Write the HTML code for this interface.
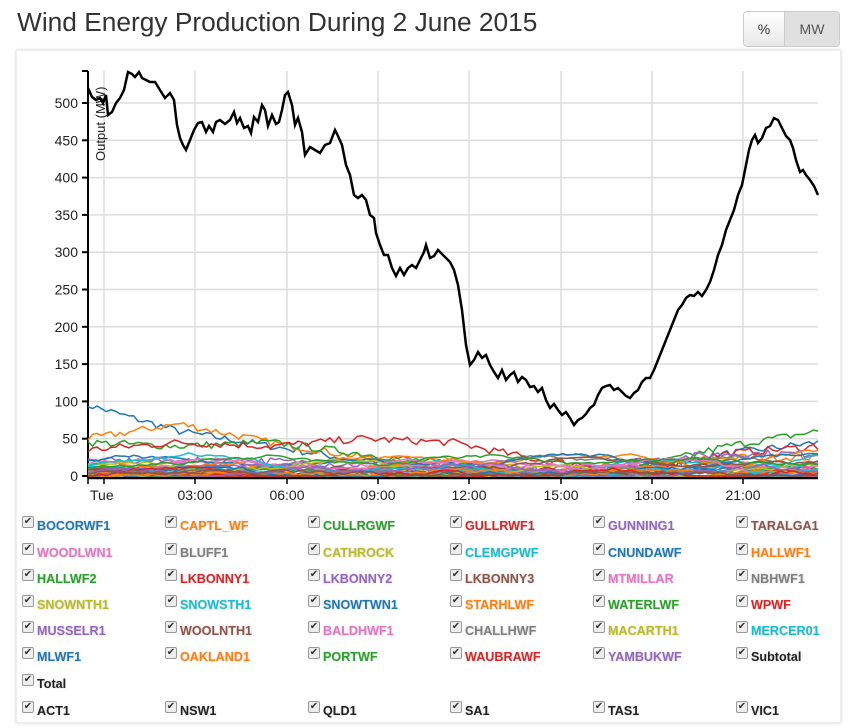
<!DOCTYPE html>
<html><head><meta charset="utf-8"><style>
body{margin:0;background:#fff;font-family:"Liberation Sans",sans-serif;width:858px;height:728px;overflow:hidden;position:relative}
h1{position:absolute;left:17px;top:7px;margin:0;font-weight:normal;font-size:26.3px;color:#333}
.btns{position:absolute;left:743px;top:11px;height:34px;display:flex;border:1px solid #ccc;border-radius:4px;overflow:hidden}
.btns div{font-size:14px;color:#333;line-height:34px;text-align:center}
.b1{width:40px;background:linear-gradient(#fff,#e8e8e8);border-right:1px solid #ccc}
.b2{width:54px;background:#e0e0e0;color:#555!important}
.card{position:absolute;left:16px;top:50px;width:823px;height:671px;box-shadow:0 0 3px #ccc;border:1px solid #eee}
svg{position:absolute;left:0;top:0}
.lg{position:absolute;font-size:12.6px;font-weight:bold;white-space:nowrap;text-shadow:0 0 2px #ccc}
.cb{position:absolute;width:10px;height:10px;border:1px solid #999;border-radius:2px;background:#eee;font-size:10px;line-height:10px;text-align:center;color:#333}
</style></head><body>
<h1>Wind Energy Production During 2 June 2015</h1>
<div class="btns"><div class="b1">%</div><div class="b2">MW</div></div>
<div class="card"></div>
<svg id="s" width="858" height="728" font-family="Liberation Sans" font-size="14"></svg>
<div id="lg"></div>
<script>
var s=document.getElementById('s'),h='';
function Y(v){return 476-v*0.746;}
for(var v=0;v<=500;v+=50){var y=Y(v);h+='<line x1="88" x2="818" y1="'+y+'" y2="'+y+'" stroke="#ddd" stroke-width="1.5"/>';
h+='<text x="78" y="'+(y+5)+'" text-anchor="end" fill="#222">'+v+'</text><line x1="82" x2="88" y1="'+y+'" y2="'+y+'" stroke="#000" stroke-width="2"/>';}
var xs=[104,195,287,378,469,561,652,743],lb=['Tue','03:00','06:00','09:00','12:00','15:00','18:00','21:00'];
for(var i=0;i<8;i++){h+='<line x1="'+xs[i]+'" x2="'+xs[i]+'" y1="71" y2="476" stroke="#ddd" stroke-width="1.5"/>';
h+='<line x1="'+xs[i]+'" x2="'+xs[i]+'" y1="478" y2="484" stroke="#000" stroke-width="1.5"/><text x="'+(i==0?90:xs[i])+'" y="500" text-anchor="'+(i==0?'start':'middle')+'" fill="#222">'+lb[i]+'</text>';}
h+='<line x1="88" x2="88" y1="71" y2="478" stroke="#000" stroke-width="2"/><line x1="88" x2="818" y1="478" y2="478" stroke="#000" stroke-width="2.5"/><line x1="82" x2="88" y1="71" y2="71" stroke="#000" stroke-width="2"/>';
h+='<line x1="88" x2="88" y1="478" y2="484" stroke="#000" stroke-width="1.5"/>';
h+='<text transform="translate(105,161) rotate(-90)" fill="#222" font-size="13">Output (MW)</text>';
var cols=['#1f77b4','#ff7f0e','#2ca02c','#d62728','#9467bd','#8c564b','#e377c2','#7f7f7f','#bcbd22','#17becf'];
var seed=7;function r(){seed=(seed*16807)%2147483647;return seed/2147483647;}
var bases=[[95,60,40,20,5,5,10,30,45],[50,70,45,25,10,5,15,25,25],[45,40,45,30,15,5,10,40,60],[35,45,40,50,45,20,10,30,40],[20,20,20,15,10,8,20,30,30]];
for(var k=0;k<36;k++){var pts=[],n=160,base=k<5?bases[k]:null,amp=k<5?0:(5+r()*22),v=r()*amp,ph=r()*6;
for(var j=0;j<=n;j++){var x=88+730*j/n,val;
if(base){var t=j/n*8,a=Math.floor(t),f=t-a;val=base[a]*(1-f)+base[Math.min(a+1,8)]*f+(r()-0.5)*10;}
else{v+= (r()-0.5)*5;v=Math.max(0,Math.min(amp*1.3,v));val=v+amp*0.3*Math.sin(j/8+ph);if(val<0)val=0;}
pts.push(x.toFixed(1)+','+Y(val).toFixed(1));}
h+='<polyline fill="none" stroke="'+cols[k%10]+'" stroke-width="1.5" points="'+pts.join(' ')+'"/>';}
var T="88,88 92,97 96,100 100,98 103,103 106,95 108,115 112,112 116,103 120,98 124,90 128,72 132,74 135,77 139,72 142,78 146,80 150,82 155,82 160,90 165,98 170,93 174,100 177,125 180,138 183,145 186,150 190,140 194,130 198,123 202,122 206,132 209,126 213,132 216,122 220,120 225,124 230,120 234,112 237,123 240,118 244,128 248,126 251,133 254,117 258,122 262,105 265,110 268,126 272,115 276,124 279,122 282,110 285,95 288,92 292,105 295,125 298,118 302,132 305,155 310,147 315,150 320,153 325,145 330,143 335,130 338,136 342,145 346,165 350,175 354,195 358,198 362,195 366,200 370,215 374,218 376,233 380,245 384,255 388,255 392,268 396,276 400,268 404,275 408,268 412,265 416,268 420,260 424,252 426,245 430,258 434,256 438,250 442,254 446,258 450,262 454,270 458,285 462,310 466,345 470,365 474,360 478,352 482,358 486,355 490,365 494,372 498,378 502,370 506,380 510,375 514,372 518,382 522,377 526,380 530,387 534,386 538,392 542,388 546,400 550,408 554,404 558,410 562,415 566,412 570,418 574,425 578,420 582,418 586,414 590,408 594,405 598,395 602,388 606,386 610,385 614,390 618,388 622,392 626,396 630,398 634,393 638,390 642,382 646,378 650,378 654,370 658,360 662,350 666,340 670,330 674,320 678,310 682,305 686,298 690,295 694,296 698,292 702,296 706,290 710,282 714,270 718,255 722,245 726,230 730,220 734,210 738,195 742,185 746,165 749,150 752,140 755,135 758,143 762,138 766,128 770,126 774,118 778,120 782,128 786,136 790,140 793,148 796,160 800,172 803,170 806,175 810,180 814,186 818,195";
h+='<polyline fill="none" stroke="#000" stroke-width="2.5" points="'+T+'"/>';
s.innerHTML=h;
var names=[['BOCORWF1','CAPTL_WF','CULLRGWF','GULLRWF1','GUNNING1','TARALGA1'],['WOODLWN1','BLUFF1','CATHROCK','CLEMGPWF','CNUNDAWF','HALLWF1'],['HALLWF2','LKBONNY1','LKBONNY2','LKBONNY3','MTMILLAR','NBHWF1'],['SNOWNTH1','SNOWSTH1','SNOWTWN1','STARHLWF','WATERLWF','WPWF'],['MUSSELR1','WOOLNTH1','BALDHWF1','CHALLHWF','MACARTH1','MERCER01'],['MLWF1','OAKLAND1','PORTWF','WAUBRAWF','YAMBUKWF','Subtotal'],['Total'],['ACT1','NSW1','QLD1','SA1','TAS1','VIC1']];
var rows=[527,554,580,606,632,658,685,712],cx=[22,165,308,450,593,736],L='',c=0;
for(var i=0;i<8;i++)for(var j=0;j<names[i].length;j++){var col=i<6&&!(i==5&&j==5)?cols[c++%10]:'#222';
L+='<div class="cb" style="left:'+cx[j]+'px;top:'+(rows[i]-11)+'px">&#10004;</div><div class="lg" style="left:'+(cx[j]+15)+'px;top:'+(rows[i]-8)+'px;color:'+col+'">'+names[i][j]+'</div>';}
document.getElementById('lg').innerHTML=L;
</script>
</body></html>
